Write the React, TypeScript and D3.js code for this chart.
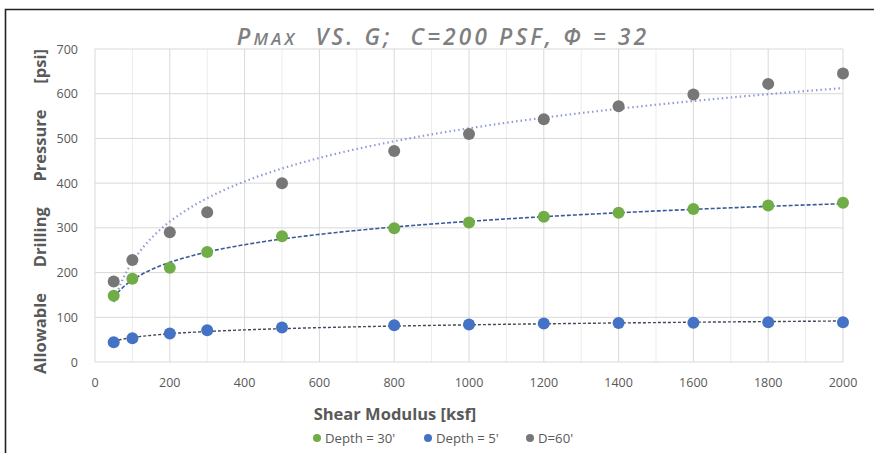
import React, { useEffect, useRef } from 'react';
import * as d3 from 'd3';

// shear modulus [ksf]
const shearModulus = [50, 100, 200, 300, 500, 800, 1000, 1200, 1400, 1600, 1800, 2000];
// allowable drilling pressure [psi]
const depth30 = [148, 186, 211, 246, 281, 299, 312, 325, 334, 342, 350, 356];
const depth5 = [44, 53, 64, 71, 77, 82, 84, 86, 87, 88, 89, 89];
const depth60 = [180, 228, 290, 335, 400, 472, 510, 543, 572, 598, 622, 645];

const xTicks = [0, 200, 400, 600, 800, 1000, 1200, 1400, 1600, 1800, 2000];
const yTicks = [0, 100, 200, 300, 400, 500, 600, 700];

const seriesList = [
  { name: "Depth = 30'", values: depth30, color: '#70ad47', trend: '#3a5a9a', dash: '4 2', trendWidth: 1.6 },
  { name: "Depth = 5'", values: depth5, color: '#4472c4', trend: '#44475a', dash: '3 2', trendWidth: 1.4 },
  { name: "D=60'", values: depth60, color: '#777777', trend: '#8f9ad8', dash: '1.5 3', trendWidth: 2.2 },
];

// least squares fit y = a ln(x) + b (Excel logarithmic trendline)
function logFit(xs: number[], ys: number[]) {
  const lx = xs.map(v => Math.log(v));
  const mx = d3.mean(lx) as number;
  const my = d3.mean(ys) as number;
  let num = 0, den = 0;
  lx.forEach((v, i) => { num += (v - mx) * (ys[i] - my); den += (v - mx) * (v - mx); });
  const a = num / den;
  const b = my - a * mx;
  return (x: number) => a * Math.log(x) + b;
}

const W = 874, H = 453;
const M = { left: 95, right: 31, top: 49, bottom: 91 };

export default function App() {
  const svgRef = useRef<SVGSVGElement>(null);

  useEffect(() => {
    document.body.style.margin = '0';
    const svg = d3.select(svgRef.current);
    svg.selectAll('*').remove();

    const x = d3.scaleLinear().domain([0, 2000]).range([M.left, W - M.right]);
    const y = d3.scaleLinear().domain([0, 700]).range([H - M.bottom, M.top]);
    const font = "'Open Sans', 'DejaVu Sans', sans-serif";

    svg.append('rect').attr('width', W).attr('height', H).attr('fill', '#fff');
    // outer frame (top and left only visible)
    svg.append('path').attr('d', `M5.5,${H} L5.5,9.5 L${W},9.5`)
      .attr('fill', 'none').attr('stroke', '#222').attr('stroke-width', 1.6);

    const g = svg.append('g');
    // minor vertical grid
    g.selectAll('.minor').data(d3.range(100, 2000, 200)).enter().append('line')
      .attr('x1', d => x(d)).attr('x2', d => x(d)).attr('y1', y(0)).attr('y2', y(700))
      .attr('stroke', '#ececec').attr('stroke-width', 1);
    g.selectAll('.vg').data(xTicks).enter().append('line')
      .attr('x1', d => x(d)).attr('x2', d => x(d)).attr('y1', y(0)).attr('y2', y(700))
      .attr('stroke', '#d9d9d9').attr('stroke-width', 1);
    g.selectAll('.hg').data(yTicks).enter().append('line')
      .attr('x1', x(0)).attr('x2', x(2000)).attr('y1', d => y(d)).attr('y2', d => y(d))
      .attr('stroke', '#d9d9d9').attr('stroke-width', 1);

    g.selectAll('.xt').data(xTicks).enter().append('text')
      .attr('x', d => x(d)).attr('y', y(0) + 25).attr('text-anchor', 'middle')
      .attr('font-family', font).attr('font-size', 12.5).attr('fill', '#595959').text(d => d);
    g.selectAll('.yt').data(yTicks).enter().append('text')
      .attr('x', x(0) - 17).attr('y', d => y(d) + 4.5).attr('text-anchor', 'end')
      .attr('font-family', font).attr('font-size', 12.5).attr('fill', '#595959').text(d => d);

    // trendlines
    const xs = d3.range(50, 2001, 10);
    seriesList.forEach(s => {
      const f = logFit(shearModulus, s.values);
      const line = d3.line<number>().x(d => x(d)).y(d => y(f(d))).curve(d3.curveMonotoneX);
      g.append('path').datum(xs).attr('d', line).attr('fill', 'none')
        .attr('stroke', s.trend).attr('stroke-width', s.trendWidth)
        .attr('stroke-dasharray', s.dash);
    });

    // points
    seriesList.forEach(s => {
      g.selectAll(null).data(s.values).enter().append('circle')
        .attr('cx', (d, i) => x(shearModulus[i])).attr('cy', d => y(d)).attr('r', 6)
        .attr('fill', s.color);
    });

    // title
    const title = svg.append('text').attr('x', 443).attr('y', 45).attr('text-anchor', 'middle')
      .attr('font-family', font).attr('font-style', 'italic').attr('font-weight', 600)
      .attr('fill', '#7f7f7f').attr('letter-spacing', 3.2);
    title.append('tspan').attr('font-size', 23).text('P');
    title.append('tspan').attr('font-size', 17).text('MAX');
    title.append('tspan').attr('font-size', 22.5).attr('xml:space', 'preserve').text('  VS. G;  C=200 PSF, Φ = 32');

    // axis titles
    svg.append('text').attr('transform', `translate(46,${(y(0) + y(700)) / 2 + 6}) rotate(-90)`)
      .attr('text-anchor', 'middle').attr('font-family', font).attr('font-weight', 700)
      .attr('font-size', 16.5).attr('fill', '#595959').style('white-space', 'pre')
      .text('Allowable      Drilling      Pressure      [psi]');
    svg.append('text').attr('x', 395).attr('y', 420).attr('text-anchor', 'middle')
      .attr('font-family', font).attr('font-weight', 700).attr('font-size', 16.5)
      .attr('fill', '#595959').text('Shear Modulus [ksf]');

    // legend
    const legendX = [313, 424, 526];
    seriesList.forEach((s, i) => {
      const lg = svg.append('g').attr('transform', `translate(${legendX[i]},438)`);
      lg.append('circle').attr('cx', 4).attr('cy', 0).attr('r', 4).attr('fill', s.color);
      lg.append('text').attr('x', 12).attr('y', 4.5).attr('font-family', font)
        .attr('font-size', 13.2).attr('fill', '#595959').text(s.name);
    });
  }, []);

  return <svg ref={svgRef} width={W} height={H} style={{ display: 'block' }} />;
}
